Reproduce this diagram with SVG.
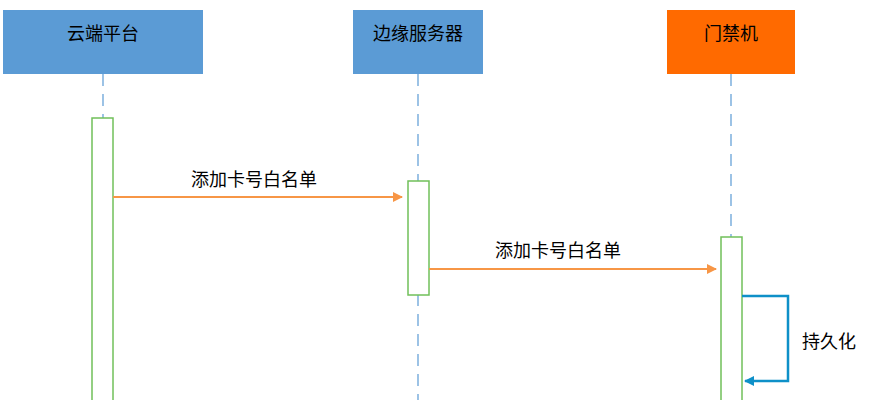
<svg xmlns="http://www.w3.org/2000/svg" width="883" height="400" viewBox="0 0 883 400">
<style>
.hd{stroke:none}
.t{font-family:"Liberation Sans","Noto Sans CJK SC",sans-serif;font-size:18px;fill:#000}
.ll{stroke:#5B9BD5;stroke-width:1.2;stroke-dasharray:12,8;fill:none}
.act{fill:#fff;stroke:#70C05A;stroke-width:1.5}
.msg{stroke:#F79646;stroke-width:2;fill:none}
</style>
<defs>
<marker id="ao" markerWidth="10" markerHeight="10" refX="9" refY="5" orient="auto" markerUnits="userSpaceOnUse" viewBox="0 0 10 10"><path d="M0,0 L10,5 L0,10 z" fill="#F79646"/></marker>
<marker id="ab" markerWidth="10" markerHeight="10" refX="9" refY="5" orient="auto" markerUnits="userSpaceOnUse" viewBox="0 0 10 10"><path d="M0,0 L10,5 L0,10 z" fill="#0E90C8"/></marker>
</defs>
<rect width="883" height="400" fill="#fff"/>
<g id="lifelines">
<line class="ll" x1="103" y1="74" x2="103" y2="118"/>
<line class="ll" x1="418" y1="74" x2="418" y2="400"/>
<line class="ll" x1="731" y1="74" x2="731" y2="237"/>
</g>
<g id="cloud"><rect class="hd" x="3" y="10" width="200" height="64" fill="#5B9BD5"/><text class="t" x="103" y="40" text-anchor="middle">云端平台</text></g>
<g id="edge"><rect class="hd" x="353" y="10" width="130" height="64" fill="#5B9BD5"/><text class="t" x="418" y="40" text-anchor="middle">边缘服务器</text></g>
<g id="door"><rect class="hd" x="667" y="10" width="128" height="64" fill="#FF6A00"/><text class="t" x="731" y="40" text-anchor="middle">门禁机</text></g>
<g id="act1"><rect class="act" x="92" y="118" width="21" height="290"/></g>
<g id="act2"><rect class="act" x="408" y="181" width="21" height="114"/></g>
<g id="act3"><rect class="act" x="721" y="237" width="21" height="170"/></g>
<g id="connectors">
<line class="msg" x1="113" y1="197" x2="402" y2="197" marker-end="url(#ao)"/>
<text class="t" x="254" y="186" text-anchor="middle">添加卡号白名单</text>
<line class="msg" x1="429" y1="269" x2="716" y2="269" marker-end="url(#ao)"/>
<text class="t" x="558" y="257" text-anchor="middle">添加卡号白名单</text>
<path d="M742,296 H788 V381 H745" fill="none" stroke="#0E90C8" stroke-width="2.5" marker-end="url(#ab)"/>
<text class="t" x="829" y="348" text-anchor="middle">持久化</text>
</g>
</svg>
